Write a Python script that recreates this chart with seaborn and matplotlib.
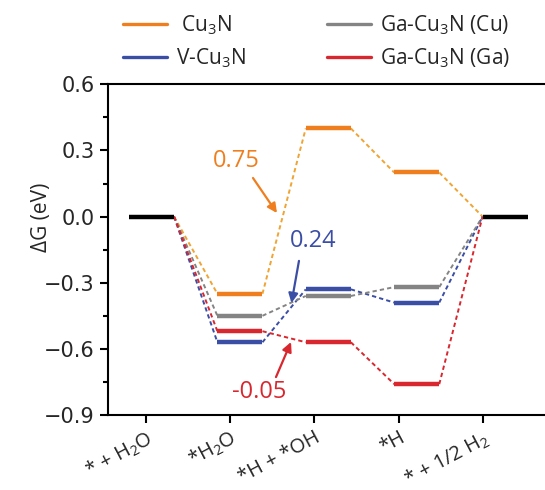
import matplotlib
matplotlib.use("Agg")
import matplotlib.pyplot as plt
from matplotlib.lines import Line2D
import numpy as np
import pandas as pd
import seaborn as sns

# Reaction steps and free energies (eV)
steps = ["* + H$_2$O", "*H$_2$O", "*H + *OH", "*H", "* + 1/2 H$_2$"]
series = ["Cu$_3$N", "V-Cu$_3$N", "Ga-Cu$_3$N (Cu)", "Ga-Cu$_3$N (Ga)"]
g_cu3n = [0.00, -0.35, 0.40, 0.20, 0.00]
g_v_cu3n = [0.00, -0.57, -0.33, -0.39, 0.00]
g_ga_cu = [0.00, -0.45, -0.36, -0.32, 0.00]
g_ga_ga = [0.00, -0.52, -0.57, -0.76, 0.00]
barriers = ["0.75", "0.24", "-0.05"]
yticks = [-0.9, -0.6, -0.3, 0.0, 0.3, 0.6]

level_colors = ["#EF7F1E", "#3B4EA6", "#848484", "#D8272E"]
link_colors = ["#EFA434", "#3B4EA6", "#848484", "#D8272E"]

sns.set_style("ticks")
plt.rcParams["font.family"] = ["Open Sans", "DejaVu Sans"]
plt.rcParams["mathtext.fontset"] = "custom"
plt.rcParams["mathtext.rm"] = "Open Sans"
plt.rcParams["mathtext.it"] = "Open Sans"

fig = plt.figure(figsize=(5.45, 4.9), dpi=100)
ax = fig.add_axes([108.3 / 545, 75 / 490, (560 - 108.3) / 545, (415 - 84.3) / 490])

W = 0.51  # width of one level bar in step units
all_g = [g_cu3n, g_v_cu3n, g_ga_cu, g_ga_ga]

level_rows, link_rows = [], []
for name, g in zip(series, all_g):
    for i, v in enumerate(g):
        if 0 < i < len(g) - 1:
            level_rows += [(name, f"{name}-{i}", i, v), (name, f"{name}-{i}", i + W, v)]
        if i < len(g) - 1:
            link_rows += [(name, f"{name}-{i}", i + W, v),
                          (name, f"{name}-{i}", i + 1, g[i + 1])]
levels = pd.DataFrame(level_rows, columns=["series", "seg", "x", "G"])
links = pd.DataFrame(link_rows, columns=["series", "seg", "x", "G"])

sns.lineplot(data=links, x="x", y="G", hue="series", units="seg", estimator=None,
             sort=False, palette=dict(zip(series, link_colors)), lw=1.4,
             ls=(0, (2.2, 1.6)), legend=False, ax=ax)
sns.lineplot(data=levels, x="x", y="G", hue="series", units="seg", estimator=None,
             sort=False, palette=dict(zip(series, level_colors)), lw=3.2,
             legend=False, ax=ax, solid_capstyle="butt")

# shared initial / final states
ends = pd.DataFrame({"seg": ["a", "a", "b", "b"],
                     "x": [0, W, len(steps) - 1, len(steps) - 1 + W],
                     "G": [g_cu3n[0], g_cu3n[0], g_cu3n[-1], g_cu3n[-1]]})
sns.lineplot(data=ends, x="x", y="G", units="seg", estimator=None, sort=False,
             color="black", lw=3.2, ax=ax, solid_capstyle="butt")

# barrier annotations
arrow = dict(arrowstyle="-|>", lw=1.6, mutation_scale=14, shrinkA=0, shrinkB=0)
ax.annotate("", xy=(1.674, 0.016), xytext=(1.403, 0.175),
            arrowprops=dict(arrow, color=level_colors[0]))
ax.text(1.216, 0.25, barriers[0], color=level_colors[0], fontsize=17,
        ha="center", va="center")
ax.annotate("", xy=(1.838, -0.392), xytext=(1.923, -0.201),
            arrowprops=dict(arrow, color=level_colors[1]))
ax.text(2.081, -0.113, barriers[1], color=level_colors[1], fontsize=17,
        ha="center", va="center")
ax.annotate("", xy=(1.833, -0.569), xytext=(1.663, -0.728),
            arrowprops=dict(arrow, color=level_colors[3]))
ax.text(1.471, -0.796, barriers[2], color=level_colors[3],
        fontsize=17, ha="center", va="center")

ax.set_xlim(-0.234, 4.876)
ax.set_ylim(-0.9, 0.6)
ax.set_yticks(yticks)
ax.set_yticks(np.arange(-0.75, 0.6, 0.3), minor=True)
ax.set_yticklabels([f"{t:.1f}".replace("-", "\u2212") for t in yticks],
                   family="DejaVu Sans", fontsize=15)
ax.set_xticks([0.19 + 0.954 * i for i in range(len(steps))])
ax.set_xticklabels(steps, rotation=28, ha="right", rotation_mode="anchor", fontsize=14.5)
ax.set_xlabel("")
ax.set_ylabel("ΔG (eV)", fontsize=15)
ax.yaxis.set_label_coords(-0.125, 0.597)

for side in ["left", "top", "bottom"]:
    ax.spines[side].set_linewidth(1.5)
    ax.spines[side].set_color("black")
ax.spines["right"].set_visible(False)
ax.tick_params(axis="y", which="major", length=6, width=1.5, pad=4, color="black")
ax.tick_params(axis="y", which="minor", length=3.5, width=1.5, color="black")
ax.tick_params(axis="x", which="major", length=6, width=1.5, pad=3, color="black")

handles = [Line2D([], [], color=c, lw=2.4) for c in level_colors]
labels = [" " + series[0]] + series[1:]
fig.legend(handles, labels, loc="upper left", bbox_to_anchor=(123 / 545, 1 - 13 / 490),
           ncol=2, frameon=False, fontsize=15, handlelength=2.1, handletextpad=0.45,
           columnspacing=3.9, labelspacing=0.45, borderpad=0, borderaxespad=0)

fig.savefig("out.png", dpi=100)
